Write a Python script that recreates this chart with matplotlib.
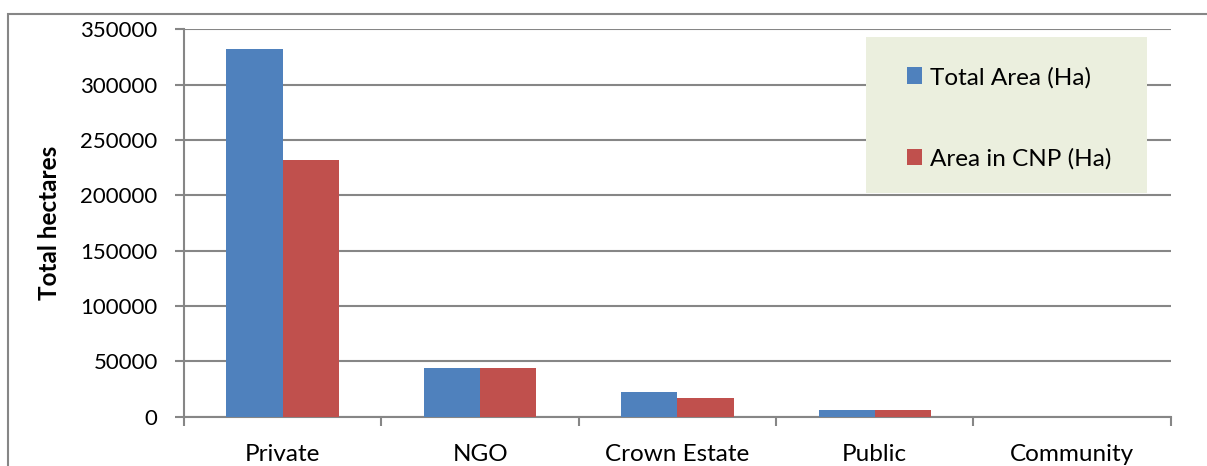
import matplotlib
matplotlib.use("Agg")
import matplotlib.pyplot as plt
from matplotlib.patches import Rectangle
import numpy as np

plt.rcParams['font.family'] = ['Lato', 'DejaVu Sans']

categories = ["Private", "NGO", "Crown Estate", "Public", "Community"]
total_area = [332000, 44000, 22500, 6000, 0]
area_cnp = [231500, 44000, 17000, 6000, 0]
series_names = ["Total Area (Ha)", "Area in CNP (Ha)"]
y_ticks = [0, 50000, 100000, 150000, 200000, 250000, 300000, 350000]

blue = "#4F81BD"
red = "#C0504D"
grey = "#868686"

fig = plt.figure(figsize=(12.07, 4.66), dpi=100)
ax = fig.add_axes([0.1525, 0.1062, 0.8175, 0.8309])

# outer chart border (only top and left are visible)
fig.patches.append(Rectangle((8 / 1207, -0.2), 1.2, 1.2 - 14 / 466,
                             transform=fig.transFigure, fill=False,
                             edgecolor=grey, linewidth=1.5))

x = np.arange(len(categories))
w = 0.285
ax.bar(x - w / 2, total_area, w, color=blue, label=series_names[0], zorder=3)
ax.bar(x + w / 2, area_cnp, w, color=red, label=series_names[1], zorder=3)

ax.set_xlim(-0.5, len(categories) - 0.5)
ax.set_ylim(0, 350000)
ax.set_yticks(y_ticks)
ax.set_yticklabels([str(t) for t in y_ticks])
ax.yaxis.grid(True, color=grey, linewidth=1.5, zorder=0)
ax.set_axisbelow(True)

ax.set_xticks(x)
ax.set_xticklabels(categories)
ax.set_xticks(np.arange(len(categories) + 1) - 0.5, minor=True)
ax.tick_params(axis='x', which='major', length=0, pad=20, labelsize=17.5)
ax.tick_params(axis='x', which='minor', length=6.5, width=1.5, color=grey)
ax.tick_params(axis='y', length=6.5, width=1.5, color=grey, labelsize=16, pad=12.5)

for s in ["top", "right"]:
    ax.spines[s].set_visible(False)
for s in ["left", "bottom"]:
    ax.spines[s].set_color(grey)
    ax.spines[s].set_linewidth(1.5)

ax.set_ylabel("Total hectares", fontsize=17.5, fontweight='bold', labelpad=14)

# legend panel
ax.add_patch(Rectangle((0.691, 0.577), 0.285, 0.403, transform=ax.transAxes,
                       facecolor="#EBEFDE", edgecolor="none", zorder=4,
                       clip_on=False))
ax.legend(loc='upper left', bbox_to_anchor=(0.720, 0.935), frameon=False,
          fontsize=17.5, handlelength=0.65, handleheight=0.65, handletextpad=0.3,
          labelspacing=2.45, borderpad=0).set_zorder(5)

fig.savefig("out.png", dpi=100)
